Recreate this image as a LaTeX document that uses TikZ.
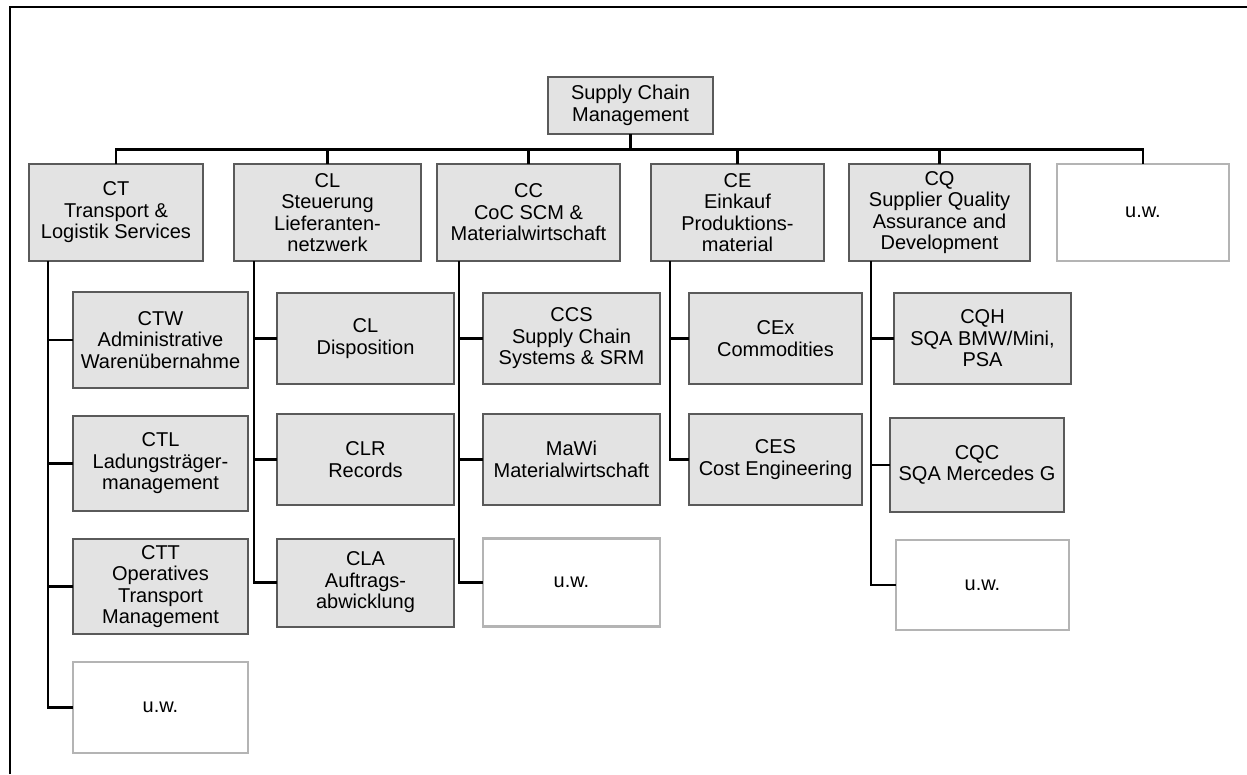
\documentclass[tikz,border=0pt]{standalone}
\usepackage{fontspec}
\setmainfont{Liberation Sans}
\begin{document}
\begin{tikzpicture}[x=1pt,y=-1pt,
  unit/.style={draw={rgb,255:red,90;green,90;blue,90}, line width=2pt,
    fill={rgb,255:red,227;green,227;blue,227}, align=center, inner sep=2pt,
    font=\fontsize{20}{21.5}\selectfont},
  open/.style={draw={rgb,255:red,180;green,180;blue,180}, line width=2.2pt,
    fill=white, align=center, inner sep=2pt,
    font=\fontsize{20}{21.5}\selectfont},
  conn/.style={line width=2.5pt, line cap=rect}]
\useasboundingbox (0,0) rectangle (1247,774);

% outer frame (top and left edges)
\draw[line width=2.5pt] (10,774) -- (10,7) -- (1247,7);

% head of the organisation
\node[unit, minimum width=165pt, minimum height=57pt] (scm) at (630.5,105.5) {Supply Chain\\Management};

% departments
\node[unit, minimum width=174pt, minimum height=97pt] (ct) at (116,212.5) {CT\\Transport \&\\Logistik Services};
\node[unit, minimum width=187pt, minimum height=97pt] (cl) at (327.5,212.5) {CL\\Steuerung\\Lieferanten-\\netzwerk};
\node[unit, minimum width=183pt, minimum height=97pt] (cc) at (528.5,212.5) {CC\\CoC SCM \&\\Materialwirtschaft};
\node[unit, minimum width=173pt, minimum height=97pt] (ce) at (737.5,212.5) {CE\\Einkauf\\Produktions-\\material};
\node[unit, minimum width=181pt, minimum height=97pt] (cq) at (939.5,212.5) {CQ\\Supplier Quality\\Assurance and\\Development};
\node[open, minimum width=172pt, minimum height=97pt] (uw) at (1143,212.5) {u.w.};

% CT groups
\node[unit, minimum width=175pt, minimum height=96pt] (ctw) at (160.5,340) {CTW\\Administrative\\Warenübernahme};
\node[unit, minimum width=175pt, minimum height=95pt] (ctl) at (160.5,463.5) {CTL\\Ladungsträger-\\management};
\node[unit, minimum width=175pt, minimum height=95pt] (ctt) at (160.5,586.5) {CTT\\Operatives\\Transport\\Management};
\node[open, minimum width=175pt, minimum height=91pt] (ctu) at (160.5,707.5) {u.w.};

% CL groups
\node[unit, minimum width=177pt, minimum height=91pt] (cld) at (365.5,338.5) {CL\\Disposition};
\node[unit, minimum width=177pt, minimum height=91pt] (clr) at (365.5,459.5) {CLR\\Records};
\node[unit, minimum width=177pt, minimum height=88pt] (cla) at (365.5,582.5) {CLA\\Auftrags-\\abwicklung};

% CC groups
\node[unit, minimum width=177pt, minimum height=91pt] (ccs) at (571.5,338.5) {CCS\\Supply Chain\\Systems \& SRM};
\node[unit, minimum width=177pt, minimum height=91pt] (mawi) at (571.5,459.5) {MaWi\\Materialwirtschaft};
\node[open, minimum width=177pt, minimum height=88pt] (ccu) at (571.5,582.5) {u.w.};

% CE groups
\node[unit, minimum width=173pt, minimum height=91pt] (cex) at (775.5,338.5) {CEx\\Commodities};
\node[unit, minimum width=173pt, minimum height=91pt] (ces) at (775.5,459.5) {CES\\Cost Engineering};

% CQ groups
\node[unit, minimum width=177pt, minimum height=91pt] (cqh) at (982.5,338.5) {CQH\\SQA BMW/Mini,\\PSA};
\node[unit, minimum width=174pt, minimum height=94pt] (cqc) at (977,465) {CQC\\SQA Mercedes G};
\node[open, minimum width=173pt, minimum height=90pt] (cqu) at (982.5,585) {u.w.};

% head to departments
\foreach \d in {ct,cl,cc,ce,cq,uw}
  \draw[conn] (scm.south) -- ++(0,14.5) -| (\d.north);

% department trunks to their groups
\foreach \g in {ctw,ctl,ctt,ctu}
  \draw[conn] ([xshift=20pt]ct.south west) |- (\g.west);
\foreach \g in {cld,clr,cla}
  \draw[conn] ([xshift=21pt]cl.south west) |- (\g.west);
\foreach \g in {ccs,mawi,ccu}
  \draw[conn] ([xshift=23pt]cc.south west) |- (\g.west);
\foreach \g in {cex,ces}
  \draw[conn] ([xshift=20pt]ce.south west) |- (\g.west);
\foreach \g in {cqh,cqc,cqu}
  \draw[conn] ([xshift=23pt]cq.south west) |- (\g.west);
\end{tikzpicture}
\end{document}
